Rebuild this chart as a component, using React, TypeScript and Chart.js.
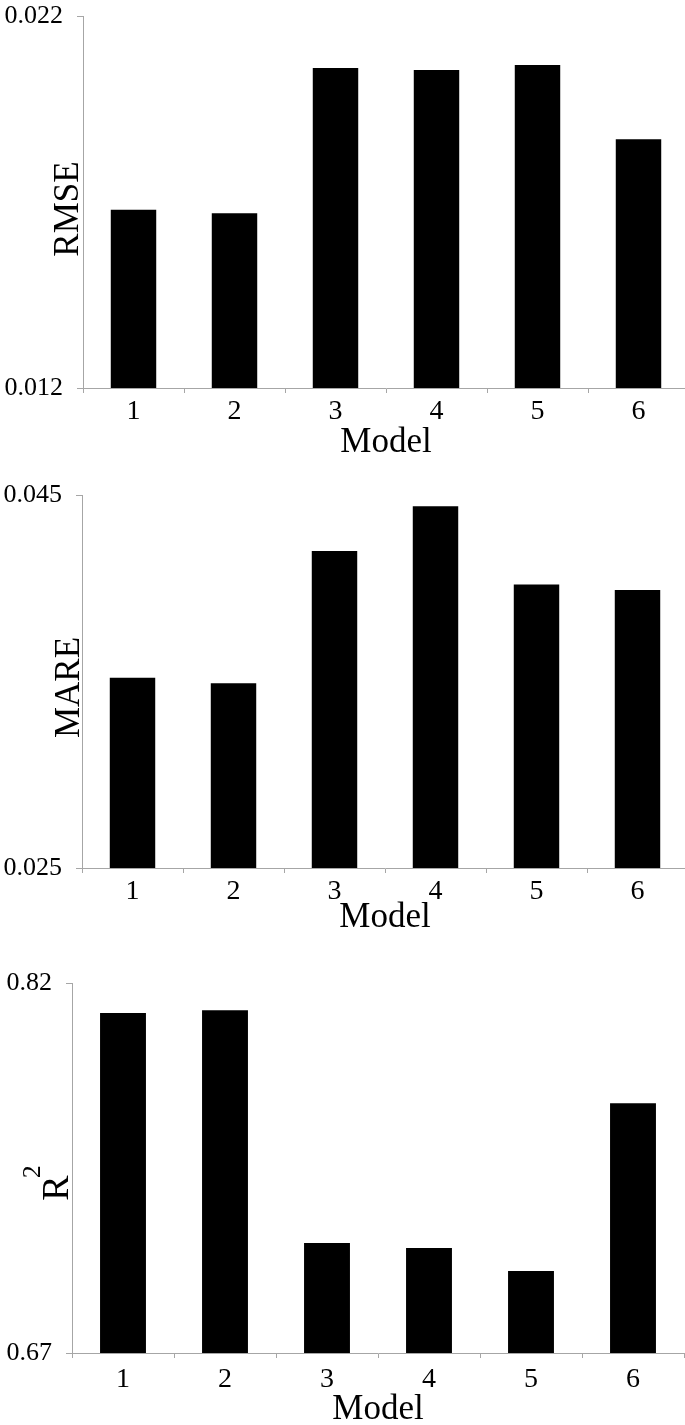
import React, { useEffect, useRef } from "react";
import { Chart, registerables } from "chart.js";

Chart.register(...registerables);

const models = ["1", "2", "3", "4", "5", "6"];
const rmseValues = [0.01679, 0.0167, 0.0206, 0.02055, 0.02068, 0.01869];
const mareValues = [0.0352, 0.0349, 0.042, 0.0444, 0.0402, 0.0399];
const r2Values = [0.8078, 0.809, 0.7146, 0.7126, 0.7032, 0.7713];
const rmseTicks = [0.012, 0.022];
const mareTicks = [0.025, 0.045];
const r2Ticks = [0.67, 0.82];
const rmseTickLabels = ["0.012", "0.022"];
const mareTickLabels = ["0.025", "0.045"];
const r2TickLabels = ["0.67", "0.82"];
const xTitle = "Model";

const FONT = "'Liberation Serif', 'Times New Roman', serif";
const AXIS_GRAY = "#a6a6a6";

type Panel = {
  yTitle: string;
  yTitleSup: string;
  yTitleSize: number;
  supSize: number;
  supRaise: number;
  yTitleBaseline: number;
  yTitleOffset: number;
  values: number[];
  ticks: number[];
  tickLabels: string[];
  canvasTop: number;
  width: number;
  plotTop: number;
  plotBottom: number;
  yWidth: number;
  rightPad: number;
  xTickPad: number;
  xTitlePadBottom: number;
};

const panels: Panel[] = [
  {
    yTitle: "RMSE",
    yTitleSup: "",
    yTitleSize: 35,
    supSize: 0,
    supRaise: 0,
    yTitleBaseline: 78,
    yTitleOffset: 7,
    values: rmseValues,
    ticks: rmseTicks,
    tickLabels: rmseTickLabels,
    canvasTop: 0,
    width: 690,
    plotTop: 16,
    plotBottom: 388,
    yWidth: 83,
    rightPad: 1,
    xTickPad: 2,
    xTitlePadBottom: 11,
  },
  {
    yTitle: "MARE",
    yTitleSup: "",
    yTitleSize: 35,
    supSize: 0,
    supRaise: 0,
    yTitleBaseline: 79,
    yTitleOffset: 6,
    values: mareValues,
    ticks: mareTicks,
    tickLabels: mareTickLabels,
    canvasTop: 475,
    width: 690,
    plotTop: 20,
    plotBottom: 393,
    yWidth: 82,
    rightPad: 2,
    xTickPad: 2,
    xTitlePadBottom: 11,
  },
  {
    yTitle: "R",
    yTitleSup: "2",
    yTitleSize: 38,
    supSize: 26,
    supRaise: 28,
    yTitleBaseline: 68,
    yTitleOffset: 15,
    values: r2Values,
    ticks: r2Ticks,
    tickLabels: r2TickLabels,
    canvasTop: 950,
    width: 685,
    plotTop: 33,
    plotBottom: 403,
    yWidth: 72,
    rightPad: 1,
    xTickPad: 5,
    xTitlePadBottom: -6,
  },
];

const CANVAS_H = 475;

function BarPanel({ p }: { p: Panel }) {
  const ref = useRef<HTMLCanvasElement | null>(null);
  useEffect(() => {
    if (!ref.current) return;
    const yTitlePlugin = {
      id: "yTitleCustom",
      afterDraw(c: any) {
        const ctx = c.ctx as CanvasRenderingContext2D;
        const ca = c.chartArea;
        const cy = (ca.top + ca.bottom) / 2 + p.yTitleOffset;
        ctx.save();
        ctx.fillStyle = "#000";
        ctx.textBaseline = "alphabetic";
        ctx.textAlign = "left";
        ctx.font = `${p.yTitleSize}px ${FONT}`;
        const mainW = ctx.measureText(p.yTitle).width;
        let supW = 0;
        let supGap = 0;
        if (p.yTitleSup) {
          ctx.font = `${p.supSize}px ${FONT}`;
          supW = ctx.measureText(p.yTitleSup).width;
          supGap = -3;
        }
        const total = mainW + supGap + supW;
        ctx.translate(p.yTitleBaseline, cy + total / 2);
        ctx.rotate(-Math.PI / 2);
        ctx.font = `${p.yTitleSize}px ${FONT}`;
        ctx.fillText(p.yTitle, 0, 0);
        if (p.yTitleSup) {
          ctx.font = `${p.supSize}px ${FONT}`;
          ctx.fillText(p.yTitleSup, mainW + supGap, -p.supRaise);
        }
        ctx.restore();
      },
    };
    const chart = new Chart(ref.current, {
      type: "bar",
      data: {
        labels: models,
        datasets: [
          {
            data: p.values,
            backgroundColor: "#000000",
            borderWidth: 0,
            barPercentage: 0.45,
            categoryPercentage: 1,
          },
        ],
      },
      options: {
        animation: false,
        responsive: false,
        maintainAspectRatio: false,
        layout: { padding: { top: p.plotTop, right: p.rightPad, left: 0, bottom: 0 } },
        plugins: { legend: { display: false }, tooltip: { enabled: false }, title: { display: false } },
        scales: {
          x: {
            offset: true,
            grid: {
              offset: true,
              drawOnChartArea: false,
              drawTicks: true,
              tickLength: 5,
              color: AXIS_GRAY,
            },
            border: { display: true, color: AXIS_GRAY, width: 1 },
            ticks: {
              color: "#000",
              padding: p.xTickPad,
              maxRotation: 0,
              font: { family: FONT, size: 28 },
            },
            title: {
              display: true,
              text: xTitle,
              color: "#000",
              font: { family: FONT, size: 35 },
              padding: { top: 0, bottom: p.xTitlePadBottom },
            },
            afterFit: (scale: any) => {
              scale.height = CANVAS_H - p.plotBottom;
              scale.paddingLeft = 0;
              scale.paddingRight = 0;
            },
          },
          y: {
            min: p.ticks[0],
            max: p.ticks[1],
            grid: {
              drawOnChartArea: false,
              drawTicks: true,
              tickLength: 6,
              color: AXIS_GRAY,
            },
            border: { display: true, color: AXIS_GRAY, width: 1 },
            ticks: {
              color: "#000",
              padding: 14,
              font: { family: FONT, size: 26 },
              callback: (value: any) => {
                const i = p.ticks.findIndex((t) => Math.abs(t - Number(value)) < 1e-9);
                return i >= 0 ? p.tickLabels[i] : "";
              },
            },
            afterBuildTicks: (scale: any) => {
              scale.ticks = p.ticks.map((v) => ({ value: v }));
            },
            title: { display: false },
            afterFit: (scale: any) => {
              scale.width = p.yWidth;
              scale.paddingTop = 0;
              scale.paddingBottom = 0;
            },
          },
        },
      },
      plugins: [yTitlePlugin],
    });
    return () => chart.destroy();
  }, [p]);

  return (
    <div style={{ position: "absolute", left: 0, top: p.canvasTop, width: p.width, height: CANVAS_H }}>
      <canvas ref={ref} width={p.width} height={CANVAS_H} style={{ display: "block" }} />
    </div>
  );
}

export default function App() {
  return (
    <div
      style={{
        position: "absolute",
        left: 0,
        top: 0,
        width: 685,
        height: 1425,
        overflow: "hidden",
        background: "#fff",
      }}
    >
      {panels.map((p, i) => (
        <BarPanel key={i} p={p} />
      ))}
    </div>
  );
}
